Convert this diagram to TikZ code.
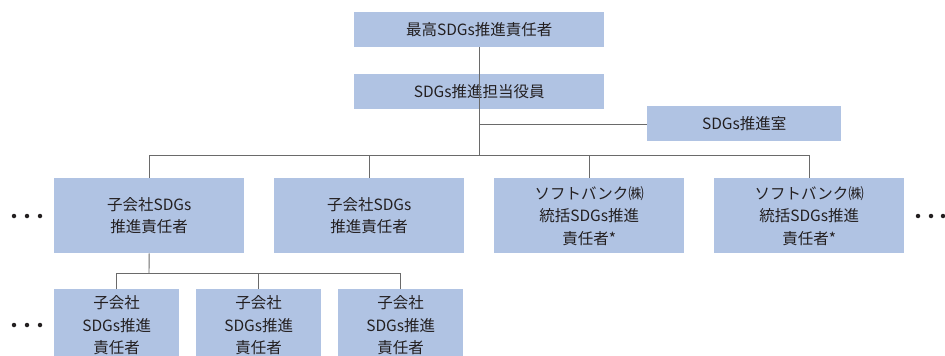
\documentclass[tikz,border=0pt]{standalone}
\usepackage{fontspec}
\setmainfont{Noto Sans CJK JP}
\definecolor{boxfill}{HTML}{B0C3E3}
\definecolor{txt}{HTML}{231F20}
\definecolor{ln}{HTML}{6A6A6A}
\begin{document}
\begin{tikzpicture}[x=1pt,y=-1pt,
  box/.style={fill=boxfill,draw=none,inner sep=0pt,anchor=north west,text=txt,align=center,
    font=\fontsize{15.5}{22.5}\selectfont},
  conn/.style={draw=ln,line width=0.9pt},
  dotsty/.style={fill=txt,circle,inner sep=0pt,minimum size=4.5pt}]
\useasboundingbox (0,0) rectangle (945,356);
% top
\node[box,minimum width=250pt,minimum height=35pt] (top) at (354,12) {最高SDGs推進責任者};
\node[box,minimum width=250pt,minimum height=35pt] (off) at (354,74) {SDGs推進担当役員};
\node[box,minimum width=194pt,minimum height=35pt] (room) at (647,106) {SDGs推進室};
% row 2
\node[box,minimum width=190pt,minimum height=75pt] (a) at (54,178) {子会社SDGs\\推進責任者};
\node[box,minimum width=190pt,minimum height=75pt] (b) at (274,178) {子会社SDGs\\推進責任者};
\node[box,minimum width=190pt,minimum height=75pt] (c) at (494,178) {ソフトバンク㈱\\統括SDGs推進\\責任者*};
\node[box,minimum width=190pt,minimum height=75pt] (d) at (714,178) {ソフトバンク㈱\\統括SDGs推進\\責任者*};
% row 3
\node[box,minimum width=125pt,minimum height=72pt] (e) at (54,289) {子会社\\SDGs推進\\責任者};
\node[box,minimum width=125pt,minimum height=72pt] (f) at (196,289) {子会社\\SDGs推進\\責任者};
\node[box,minimum width=125pt,minimum height=72pt] (g) at (338,289) {子会社\\SDGs推進\\責任者};
% connectors
\coordinate (j1) at (479,124);
\coordinate (j2) at (479,155);
\coordinate (j3) at (149,273);
\draw[conn] (top.south -| j1) -- (off.south -| j1);
\draw[conn] (off.south -| j1) -- (j2);
\draw[conn] (j1) -- (room.west |- j1);
\draw[conn] (a.north |- j2) -- (d.north |- j2);
\foreach \n in {a,b,c,d} \draw[conn] (\n.north |- j2) -- (\n.north);
\draw[conn] (a.south) -- (j3);
\draw[conn] (e.north |- j3) -- (g.north |- j3);
\foreach \n in {e,f,g} \draw[conn] (\n.north |- j3) -- (\n.north);
% dots
\foreach \x in {14,27,40} \node[dotsty] (l\x) at (\x,216) {};
\foreach \x in {918,931,943} \node[dotsty] (r\x) at (\x,216) {};
\foreach \x in {14,27,40} \node[dotsty] (m\x) at (\x,325) {};
\end{tikzpicture}
\end{document}
